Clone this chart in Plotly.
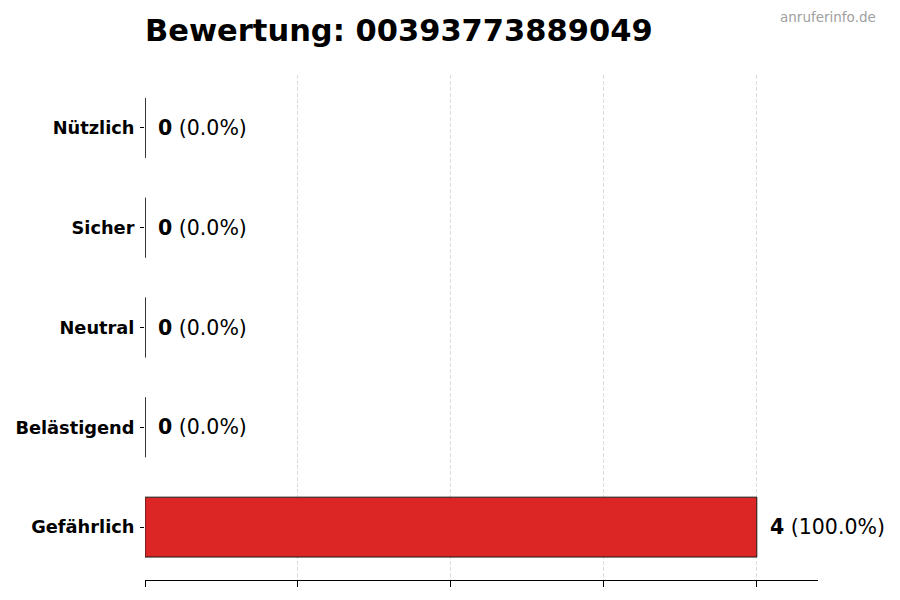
import plotly.graph_objects as go

categories = ["Gefährlich", "Belästigend", "Neutral", "Sicher", "Nützlich"]
values = [4, 0, 0, 0, 0]
title_text = "Bewertung: 00393773889049"
watermark = "anruferinfo.de"

total = sum(values)
bar_width = 0.6
x_max = max(values) * 1.1
y_idx = list(range(len(categories)))

FONT = "DejaVu Sans"
fig = go.Figure()
fig.add_trace(go.Bar(
    x=values, y=y_idx, orientation="h", width=bar_width,
    marker=dict(color="#dc2626", line=dict(color="#1a1a1a", width=1)),
    hoverinfo="skip",
))

shapes = []
annotations = []
for i, v in enumerate(values):
    if v == 0:
        shapes.append(dict(type="line", xref="x", yref="y", x0=v, x1=v,
                           y0=i - bar_width / 2, y1=i + bar_width / 2,
                           line=dict(color="#1a1a1a", width=1)))
    pct = 100.0 * v / total if total else 0.0
    annotations.append(dict(
        x=v, y=i, xref="x", yref="y", xanchor="left", yanchor="middle",
        xshift=11, showarrow=False,
        text=f"<b>{v}</b> ({pct:.1f}%)",
        font=dict(family=FONT, size=20.5, color="black"),
    ))
annotations.append(dict(
    x=1 + (878 - 818) / 673, y=1 + (75 - 17) / 505, xref="paper", yref="paper",
    xanchor="right", yanchor="middle", showarrow=False,
    text=watermark, font=dict(family=FONT, size=13.5, color="#a0a0a0"),
))

fig.update_layout(
    width=900, height=600,
    margin=dict(l=145, r=82, t=75, b=20),
    paper_bgcolor="white", plot_bgcolor="white",
    showlegend=False,
    title=dict(text=f"<b>{title_text}</b>", x=145 / 900, xanchor="left",
               y=1 - 30 / 600, yanchor="middle",
               font=dict(family=FONT, size=30.5, color="black")),
    xaxis=dict(range=[0, x_max], tickvals=[0, 1, 2, 3, 4], showticklabels=False,
               ticks="outside", ticklen=6, tickcolor="black", tickwidth=1,
               showline=True, linecolor="black", linewidth=1,
               showgrid=True, gridcolor="#dcdcdc", griddash="4px,2px", gridwidth=1,
               zeroline=False, fixedrange=True),
    yaxis=dict(range=[-0.53, len(categories) - 1 + 0.53],
               tickvals=y_idx, ticktext=[f"<b>{c}</b>" for c in categories],
               ticks="outside", ticklen=4, tickcolor="black",
               showline=False, showgrid=False, zeroline=False,
               tickfont=dict(family=FONT, size=17.8, color="black"),
               ticklabelstandoff=2, fixedrange=True),
    shapes=shapes, annotations=annotations,
)
fig.write_html("out.html", config={"displayModeBar": False},
               post_script="document.body.style.margin='0';")
